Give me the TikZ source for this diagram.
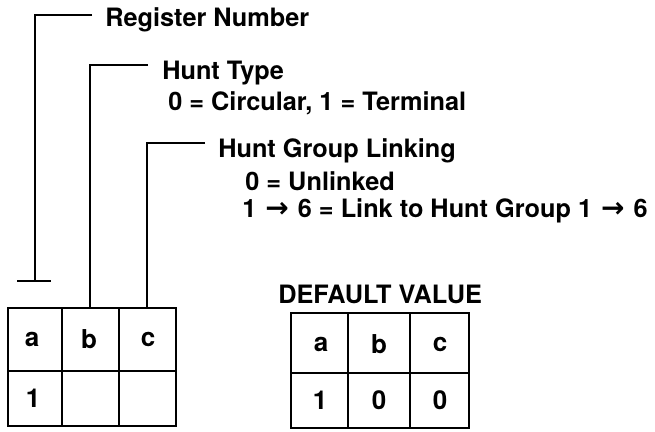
\documentclass[tikz,border=0pt]{standalone}
\usepackage{fontspec}
\setmainfont{TeX Gyre Heros}
\newfontfamily\arrowfont{DejaVu Sans}
\usetikzlibrary{positioning}

\newcommand{\hto}{\hspace{2pt}{\arrowfont\fontsize{28}{28}\selectfont →}\hspace{2pt}}

\begin{document}
\begin{tikzpicture}[x=1pt,y=-1pt,line width=2.6pt,
          lbl/.style={anchor=base west,inner sep=0pt,font=\fontsize{25.3}{28}\bfseries\selectfont},
          v/.style={inner sep=0pt,font=\fontsize{26}{28}\bfseries\selectfont}]
        \useasboundingbox (0,0) rectangle (655,431);
        % labels
        \node[lbl] (rn) at (104,26) {Register Number};
        \node[lbl] (ht) at (161,79) {Hunt Type};
        \node[lbl] (ht1) at (167,110) {0 = Circular, 1 = Terminal};
        \node[lbl] (hg) at (217,157) {Hunt Group Linking};
        \node[lbl] (hg1) at (244,190) {0 = Unlinked};
        \node[lbl] (hg2) at (241,217) {1 \hto{} 6 = Link to Hunt Group 1 \hto{} 6};
        \node[lbl] (dv) at (277,303) {DEFAULT VALUE};
        % register table
        \coordinate (ta) at (8,308); \coordinate (tb) at (90,308);
        \coordinate (tc) at (147,308);
        \draw (ta) rectangle (176,426);
        \draw (62,308) -- (62,426); \draw (119,308) -- (119,426);
        \draw (8,371) -- (176,371);
        \node[v] (a1) at (32,339) {a}; \node[v] (b1) at (89,339) {b};
        \node[v] (c1) at (148,339) {c}; \node[v] (v1) at (33,398) {1};
        % default table
        \draw (291,313) rectangle (469,428);
        \draw (348,313) -- (348,428); \draw (410,313) -- (410,428);
        \draw (291,373) -- (469,373);
        \node[v] (a2) at (321,344) {a}; \node[v] (b2) at (379,344) {b};
        \node[v] (c2) at (440,344) {c};
        \node[v] (v2) at (320,400) {1}; \node[v] (w2) at (379,400) {0};
        \node[v] (x2) at (440,400) {0};
        % brackets
        \coordinate (rnf) at (35,281);
        \draw (92,15) -| (rnf);
        \draw (17,281) -- (51,281);
        \draw (148,65) -| (tb);
        \draw (205,143) -| (tc);
      \end{tikzpicture}
\end{document}
